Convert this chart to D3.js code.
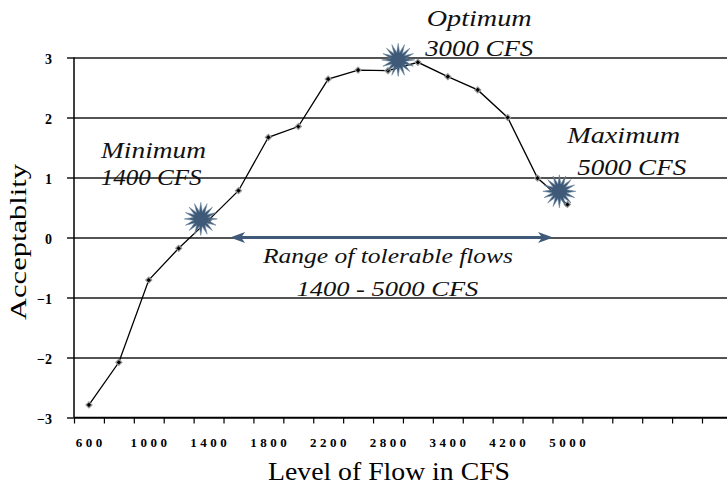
<!DOCTYPE html>
<html>
<head>
<meta charset="utf-8">
<script src="https://cdn.jsdelivr.net/npm/d3@7"></script>
<style>
  html, body { margin: 0; padding: 0; background: #fff; }
  svg { display: block; }
</style>
</head>
<body>
<div id="chart"></div>
<script>
// ---------------- data ----------------
const flowLabels = ["600","","1000","","1400","","1800","","2200","","2800","","3400","","4200","","5000","","","",""];
const acceptability = [-2.79, -2.08, -0.71, -0.18, 0.29, 0.78, 1.67, 1.85, 2.64, 2.79, 2.78, 2.92, 2.68, 2.46, 2.00, 0.99, 0.55];
const yTicks = [-3, -2, -1, 0, 1, 2, 3];
// annotation stars (category position, acceptability)
const starCats = [3.74, 10.34, 15.73];
const starVals = [0.31, 2.96, 0.77];
// tolerable range arrow (category positions) at acceptability 0
const rangeCats = [5.22, 16.02];
const rangeVal = 0;
// text annotations (category center, acceptability baseline)
const noteTexts = ["Optimum", "3000 CFS", "Maximum", "5000 CFS", "Minimum", "1400 CFS", "Range of tolerable flows", "1400 - 5000 CFS"];
const noteCats  = [13.55, 13.55, 18.38, 18.65, 2.66, 2.58, 10.50, 10.48];
const noteVals  = [3.525, 3.02, 1.575, 1.042, 1.325, 0.875, -0.417, -0.975];
const noteWidths = [105, 108, 113, 109, 105, 101, 250, 182];

// ---------------- layout ----------------
const W = 727, H = 486;
const mLeft = 74, mRight = 702, mTop = 57.5, mBottom = 417.5;
const serif = "'Liberation Serif', 'Times New Roman', Times, serif";
const starColor = "#3e5a78";

const svg = d3.select("#chart").append("svg")
  .attr("width", W).attr("height", H)
  .style("background", "#fff");

const x = d3.scaleLinear().domain([0, flowLabels.length]).range([mLeft, mRight]);
const y = d3.scaleLinear().domain([-3, 3]).range([mBottom, mTop]);

// grid lines + y axis labels
const yAxis = d3.axisLeft(y).tickValues(yTicks).tickFormat(d3.format("d"))
  .tickSizeInner(-(W - mLeft)).tickSizeOuter(0).tickPadding(15);
const gy = svg.append("g").attr("transform", `translate(${mLeft},0)`).call(yAxis);
gy.select(".domain").remove();
gy.selectAll(".tick line")
  .attr("x1", -7).attr("x2", W - mLeft)
  .attr("stroke", "#1a1a1a").attr("stroke-width", 1.5);
gy.selectAll(".tick text")
  .attr("x", -22)
  .attr("dy", "0.4em")
  .style("font-family", serif).style("font-weight", "bold").style("font-size", "14px")
  .attr("fill", "#000");

// y axis line
svg.append("line").attr("x1", mLeft).attr("x2", mLeft).attr("y1", y(3)).attr("y2", y(-3))
  .attr("stroke", "#000").attr("stroke-width", 1.5);

// x axis: tick marks at category boundaries
const xAxis = d3.axisBottom(x).tickValues(d3.range(flowLabels.length + 1))
  .tickFormat("").tickSizeInner(6).tickSizeOuter(0);
const gx = svg.append("g").attr("transform", `translate(0,${y(-3)})`).call(xAxis);
gx.select(".domain").attr("stroke", "#000").attr("stroke-width", 1.5)
  .attr("d", `M${mLeft},0H${W}`);
gx.selectAll(".tick line").attr("stroke", "#000").attr("stroke-width", 1.2);

// x labels at category centers
svg.append("g").selectAll("text").data(flowLabels.map((l, i) => ({l, i})).filter(d => d.l !== ""))
  .join("text")
  .attr("x", d => x(d.i + 0.5) + 1.75)
  .attr("y", 446.5)
  .attr("text-anchor", "middle")
  .style("font-family", serif).style("font-weight", "bold").style("font-size", "13px")
  .style("letter-spacing", "3.5px")
  .text(d => d.l);

// axis titles
svg.append("text")
  .attr("x", (268 + 510) / 2).attr("y", 480)
  .attr("text-anchor", "middle")
  .attr("textLength", 242).attr("lengthAdjust", "spacingAndGlyphs")
  .style("font-family", serif).style("font-size", "26px")
  .text("Level of Flow in CFS");
svg.append("text")
  .attr("transform", "translate(26,242) rotate(-90)")
  .attr("text-anchor", "middle")
  .attr("textLength", 156).attr("lengthAdjust", "spacingAndGlyphs")
  .style("font-family", serif).style("font-size", "23px")
  .text("Acceptablity");

// data line
const line = d3.line().x((d, i) => x(i + 0.5)).y(d => y(d));
svg.append("path").datum(acceptability)
  .attr("d", line).attr("fill", "none").attr("stroke", "#000").attr("stroke-width", 1.3);

// range arrow
const ax1 = x(rangeCats[0]), ax2 = x(rangeCats[1]), ay = y(rangeVal);
svg.append("line").attr("x1", ax1 + 8).attr("x2", ax2 - 8).attr("y1", ay).attr("y2", ay)
  .attr("stroke", starColor).attr("stroke-width", 3.2);
svg.append("path")
  .attr("d", `M${ax1},${ay} L${ax1 + 15},${ay - 5.5} L${ax1 + 11},${ay} L${ax1 + 15},${ay + 5.5} Z`)
  .attr("fill", starColor);
svg.append("path")
  .attr("d", `M${ax2},${ay} L${ax2 - 15},${ay - 5.5} L${ax2 - 11},${ay} L${ax2 - 15},${ay + 5.5} Z`)
  .attr("fill", starColor);

// markers
svg.append("g").selectAll("path").data(acceptability).join("path")
  .attr("transform", (d, i) => `translate(${x(i + 0.5)},${y(d)})`)
  .attr("d", "M0,-3L3,0L0,3L-3,0Z")
  .attr("fill", "#000").attr("stroke", "#999").attr("stroke-width", 1.2);

// stars
const nPts = 16, rOut = 16.5, rIn = 7.5;
const starPath = d3.range(nPts * 2).map(k => {
  const r = k % 2 === 0 ? rOut : rIn;
  const a = k * Math.PI / nPts - Math.PI / 2;
  return [r * Math.cos(a), r * Math.sin(a)];
});
const starD = "M" + starPath.map(p => p.join(",")).join("L") + "Z";
svg.append("g").selectAll("path").data(starCats).join("path")
  .attr("transform", (d, i) => `translate(${x(d + 0.5)},${y(starVals[i])})`)
  .attr("d", starD)
  .attr("fill", starColor).attr("stroke", "#6d86a0").attr("stroke-width", 0.6);

// annotations
svg.append("g").selectAll("text").data(noteTexts).join("text")
  .attr("x", (d, i) => x(noteCats[i]))
  .attr("y", (d, i) => y(noteVals[i]))
  .attr("text-anchor", "middle")
  .attr("textLength", (d, i) => noteWidths[i]).attr("lengthAdjust", "spacingAndGlyphs")
  .style("font-family", serif).style("font-style", "italic")
  .style("font-size", (d, i) => (i >= 6 ? "21px" : "24px"))
  .attr("fill", "#111")
  .text(d => d);
</script>
</body>
</html>
